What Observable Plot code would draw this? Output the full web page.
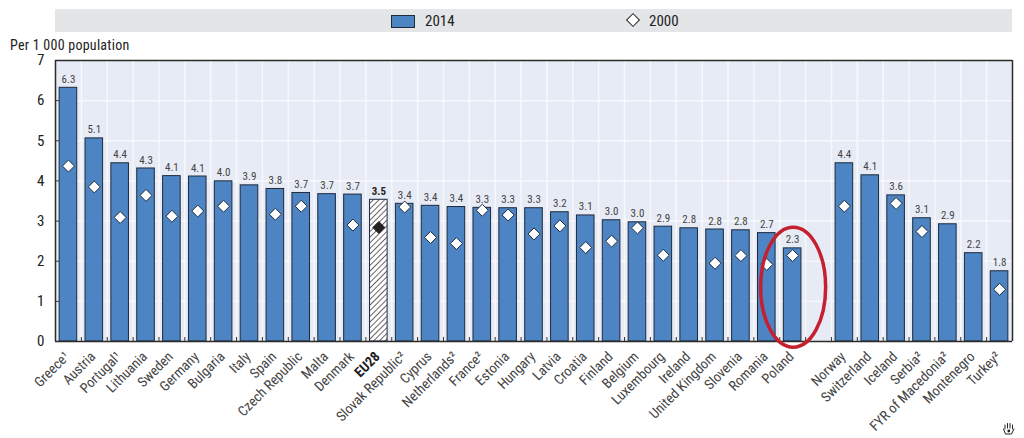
<!DOCTYPE html>
<html><head><meta charset="utf-8">
<script src="https://cdn.jsdelivr.net/npm/d3@7"></script>
<script src="https://cdn.jsdelivr.net/npm/@observablehq/plot@0.6"></script>
<style>
html,body{margin:0;padding:0;background:#fff;width:1024px;height:438px;overflow:hidden}
body{font-family:"Liberation Sans Narrow","Roboto Condensed","Liberation Sans",sans-serif;color:#222}
#legend{position:absolute;left:55px;top:9px;width:957px;height:23px;background:#e3e5e7;font-size:15px}
#legend .sw{position:absolute;left:336px;top:6px;width:22px;height:11px;background:#4c84c4;border:1px solid #1f2a3a}
#legend .t1{position:absolute;left:370px;top:3px}
#legend .dm{position:absolute;left:573px;top:6px;width:8px;height:8px;background:#fff;border:1px solid #222;transform:rotate(45deg)}
#legend .t2{position:absolute;left:594px;top:3px}
#sub{position:absolute;left:10px;top:39px;font-size:14px;line-height:13px;letter-spacing:.25px}
#chart{position:absolute;left:0;top:52px}
#hand{position:absolute;left:1002px;top:421px}
svg{overflow:visible}
</style></head><body>
<div id="legend"><span class="sw"></span><span class="t1">2014</span><span class="dm"></span><span class="t2">2000</span></div>
<div id="sub">Per 1 000 population</div>
<div id="chart"></div>
<svg id="hand" width="14" height="16" viewBox="0 0 14 16"><g fill="none" stroke="#222" stroke-width="1" stroke-linecap="round"><path d="M3 8V4M5.5 7V2.5M8 7V2.5M10.5 8V4M1.5 8l2 5h6l2.5-5"/></g><circle cx="6.8" cy="10" r="1.4" fill="#222"/></svg>
<script>
const categories = ["Greece¹","Austria","Portugal¹","Lithuania","Sweden","Germany","Bulgaria","Italy","Spain","Czech Republic","Malta","Denmark","EU28","Slovak Republic²","Cyprus","Netherlands²","France²","Estonia","Hungary","Latvia","Croatia","Finland","Belgium","Luxembourg","Ireland","United Kingdom","Slovenia","Romania","Poland"," ","Norway","Switzerland","Iceland","Serbia²","FYR of Macedonia²","Montenegro","Turkey²"];
const values2014 = [6.32,5.06,4.44,4.31,4.12,4.11,3.99,3.89,3.80,3.70,3.67,3.66,3.53,3.43,3.38,3.35,3.33,3.32,3.32,3.22,3.14,3.02,2.97,2.86,2.82,2.79,2.77,2.70,2.32,null,4.44,4.14,3.64,3.07,2.92,2.20,1.75];
const values2000 = [4.37,3.85,3.09,3.64,3.12,3.25,3.37,null,3.17,3.37,null,2.90,2.84,3.35,2.59,2.44,3.27,3.15,2.68,2.88,2.34,2.50,2.83,2.15,null,1.95,2.14,1.92,2.14,null,3.37,null,3.44,2.74,null,null,1.30];
const labels2014 = ["6.3","5.1","4.4","4.3","4.1","4.1","4.0","3.9","3.8","3.7","3.7","3.7","3.5","3.4","3.4","3.4","3.3","3.3","3.3","3.2","3.1","3.0","3.0","2.9","2.8","2.8","2.8","2.7","2.3","","4.4","4.1","3.6","3.1","2.9","2.2","1.8"];
const yTicks = [0,1,2,3,4,5,6,7];
const highlight = {category:"Poland", center:1.34};

const rows = categories.map((c,i)=>({c,v14:values2014[i],v00:values2000[i],lab:labels2014[i]}));
const bars = rows.filter(d=>d.v14!=null);
const pts = rows.filter(d=>d.v00!=null);
const isEU = d=>d.c==="EU28";
const step = 957/37;
const font = '"Liberation Sans Narrow","Roboto Condensed","Liberation Sans",sans-serif';

const redEllipse = (index,{x,y})=>{
  const s = d3.create("svg:ellipse")
    .attr("cx",x(highlight.category)+x.bandwidth()/2+1)
    .attr("cy",y(highlight.center))
    .attr("rx",32.5).attr("ry",60)
    .attr("fill","none").attr("stroke","#c5202f").attr("stroke-width",3.5);
  return s.node();
};

const chart = Plot.plot({
  width:1024,height:386,
  marginLeft:55,marginRight:12,marginTop:8,marginBottom:97,
  style:{fontFamily:font,background:"transparent",overflow:"visible"},
  x:{type:"band",domain:categories,paddingInner:0.32,paddingOuter:0.16,align:0.5,axis:null},
  y:{domain:[0,7],axis:null},
  marks:[
    Plot.frame({fill:"#e7ebf5",stroke:"none"}),
    Plot.ruleY(yTicks.slice(1,-1),{stroke:"#f7f8fc",strokeWidth:1.5}),
    Plot.ruleX(categories.slice(0,-1),{x:d=>d,dx:step/2,stroke:"#f7f8fc",strokeWidth:1.5}),
    Plot.barY(bars.filter(d=>!isEU(d)),{x:"c",y:"v14",fill:"#4c84c4",stroke:"#1f2a3a",strokeWidth:1}),
    Plot.barY(bars.filter(isEU),{x:"c",y:"v14",fill:"url(#hatch)",stroke:"#1f2a3a",strokeWidth:1}),
    Plot.dot(pts.filter(d=>!isEU(d)),{x:"c",y:"v00",symbol:"diamond2",r:5.4,fill:"#fff",stroke:"#1f2a3a",strokeWidth:1}),
    Plot.dot(pts.filter(isEU),{x:"c",y:"v00",symbol:"diamond2",r:5.4,fill:"#222",stroke:"#222",strokeWidth:1}),
    Plot.text(bars.filter(d=>!isEU(d)),{x:"c",y:"v14",text:"lab",dy:-8.5,fontSize:11,fill:"#444"}),
    Plot.text(bars.filter(isEU),{x:"c",y:"v14",text:"lab",dy:-8.5,fontSize:11,fontWeight:"bold",fill:"#222"}),
    Plot.ruleX(categories,{x:d=>d,dx:step/2,y1:0,y2:0.1,stroke:"#333",strokeWidth:1}),
    Plot.ruleX(categories.slice(0,1),{x:d=>d,dx:-step/2,stroke:"#2b2b2b",strokeWidth:1.5}),
    Plot.ruleX(categories.slice(-1),{x:d=>d,dx:step/2,stroke:"#2b2b2b",strokeWidth:1.5}),
    Plot.ruleY([0,7],{stroke:"#2b2b2b",strokeWidth:1.5}),
    Plot.ruleY(yTicks.slice(1,-1),{y:d=>d,insetRight:953,stroke:"#333",strokeWidth:1}),
    Plot.text(yTicks,{text:d=>String(d),y:d=>d,frameAnchor:"left",textAnchor:"end",dx:-11,fontSize:15,fill:"#222"}),
    Plot.text(categories.filter(c=>c!==" "&&c!=="EU28"),{x:d=>d,text:d=>d,frameAnchor:"bottom",textAnchor:"end",rotate:-45,dx:2,dy:16,fontSize:14,fill:"#444"}),
    Plot.text(["EU28"],{x:d=>d,text:d=>d,frameAnchor:"bottom",textAnchor:"end",rotate:-45,dx:2,dy:16,fontSize:14,fontWeight:"bold",fill:"#222"}),
    redEllipse
  ]
});
const defs = d3.select(chart).insert("defs",":first-child");
const p = defs.append("pattern").attr("id","hatch").attr("patternUnits","userSpaceOnUse")
  .attr("width",4).attr("height",4).attr("patternTransform","rotate(45)");
p.append("rect").attr("width",4).attr("height",4).attr("fill","#fff");
p.append("line").attr("x1",0).attr("x2",0).attr("y1",0).attr("y2",4).attr("stroke","#333").attr("stroke-width",1.5);
document.getElementById("chart").append(chart);
</script></body></html>
